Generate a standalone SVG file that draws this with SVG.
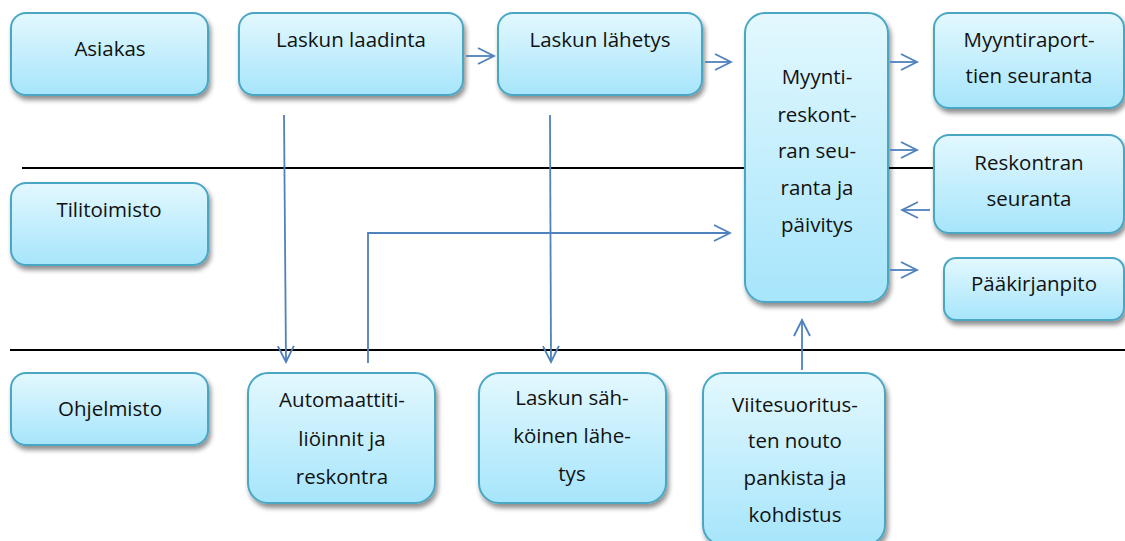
<svg xmlns="http://www.w3.org/2000/svg" width="1125" height="541" viewBox="0 0 1125 541">
<defs>
<linearGradient id="g" x1="0" y1="0" x2="0" y2="1">
<stop offset="0" stop-color="#e3f8fe"/>
<stop offset="1" stop-color="#a6e5fb"/>
</linearGradient>
<filter id="sh" x="-10%" y="-10%" width="130%" height="130%">
<feGaussianBlur in="SourceAlpha" stdDeviation="2.5"/>
<feOffset dx="2" dy="4"/>
<feComponentTransfer><feFuncA type="linear" slope="0.45"/></feComponentTransfer>
<feMerge><feMergeNode/><feMergeNode in="SourceGraphic"/></feMerge>
</filter>
<marker id="ah" markerWidth="20" markerHeight="20" viewBox="-18 -10 20 20" refX="0" refY="0" orient="auto" markerUnits="userSpaceOnUse">
<path d="M-16,-8 L0,0 L-16,8" fill="none" stroke="#4f81bd" stroke-width="1.8"/>
</marker>
</defs>
<style>
.n{fill:url(#g);stroke:#4aa7c4;stroke-width:2;filter:url(#sh)}
.t{font-family:"Open Sans","Noto Sans",sans-serif;font-size:20.5px;fill:#111;text-anchor:middle}
.c{fill:none;stroke:#4f81bd;stroke-width:1.8;marker-end:url(#ah)}
.sep{stroke:#000;stroke-width:1.8}
</style>
<rect width="1125" height="541" fill="#fff"/>
<g id="lanes">
<line class="sep" x1="22" y1="168" x2="934" y2="168"/>
<line class="sep" x1="10" y1="350" x2="1125" y2="350"/>
</g>
<g id="n-asiakas"><rect class="n" x="11" y="13" width="197" height="82" rx="15"/><text class="t" x="110" y="56">Asiakas</text></g>
<g id="n-laadinta"><rect class="n" x="239" y="13" width="224" height="82" rx="15"/><text class="t" x="351" y="47">Laskun laadinta</text></g>
<g id="n-lahetys"><rect class="n" x="498" y="13" width="204" height="82" rx="15"/><text class="t" x="600" y="47">Laskun lähetys</text></g>
<g id="n-myynti"><rect class="n" x="745" y="13" width="143" height="289" rx="20"/>
<text class="t" x="817" y="84">Myynti-</text><text class="t" x="817" y="122">reskont-</text><text class="t" x="817" y="158">ran seu-</text><text class="t" x="817" y="195">ranta ja</text><text class="t" x="817" y="232">päivitys</text></g>
<g id="n-raportit"><rect class="n" x="934" y="13" width="190" height="95" rx="15"/><text class="t" x="1029" y="47">Myyntiraport-</text><text class="t" x="1029" y="83">tien seuranta</text></g>
<g id="n-reskontra"><rect class="n" x="934" y="135" width="190" height="98" rx="15"/><text class="t" x="1029" y="170">Reskontran</text><text class="t" x="1029" y="206">seuranta</text></g>
<g id="n-paakirja"><rect class="n" x="944" y="258" width="180" height="62" rx="12"/><text class="t" x="1034" y="291">Pääkirjanpito</text></g>
<g id="n-tilitoimisto"><rect class="n" x="11" y="183" width="197" height="82" rx="15"/><text class="t" x="109" y="217">Tilitoimisto</text></g>
<g id="n-ohjelmisto"><rect class="n" x="11" y="373" width="197" height="72" rx="15"/><text class="t" x="110" y="416">Ohjelmisto</text></g>
<g id="n-automaatti"><rect class="n" x="248" y="373" width="187" height="130" rx="20"/><text class="t" x="342" y="407">Automaattiti-</text><text class="t" x="342" y="446">liöinnit ja</text><text class="t" x="342" y="484">reskontra</text></g>
<g id="n-sahkoinen"><rect class="n" x="479" y="373" width="187" height="130" rx="20"/><text class="t" x="572" y="405">Laskun säh-</text><text class="t" x="572" y="443">köinen lähe-</text><text class="t" x="572" y="481">tys</text></g>
<g id="n-viite"><rect class="n" x="703" y="373" width="182" height="172" rx="20"/><text class="t" x="795" y="412">Viitesuoritus-</text><text class="t" x="795" y="448">ten nouto</text><text class="t" x="795" y="485">pankista ja</text><text class="t" x="795" y="522">kohdistus</text></g>
<g id="connectors">
<line class="c" x1="466" y1="56" x2="494" y2="56"/>
<line class="c" x1="705" y1="62" x2="731" y2="62"/>
<line class="c" x1="890" y1="62" x2="917" y2="62"/>
<line class="c" x1="890" y1="150" x2="917" y2="150"/>
<line class="c" x1="930" y1="210" x2="902" y2="210"/>
<line class="c" x1="890" y1="270" x2="917" y2="270"/>
<line class="c" x1="284" y1="115" x2="286" y2="362"/>
<line class="c" x1="550" y1="115" x2="551" y2="362"/>
<polyline class="c" points="368,363 368,233 730,233"/>
<line class="c" x1="802" y1="370" x2="802" y2="320"/>
</g>
</svg>
